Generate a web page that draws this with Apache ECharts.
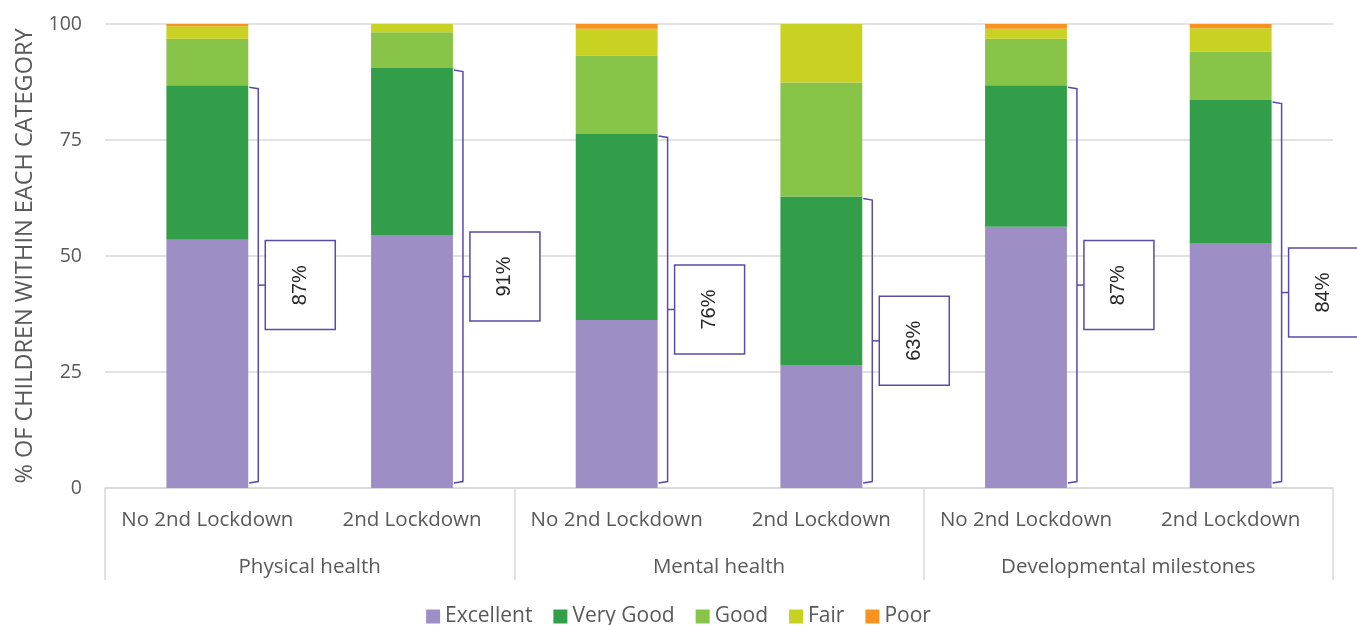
<!DOCTYPE html>
<html>
<head>
<meta charset="utf-8">
<script src="https://cdn.jsdelivr.net/npm/echarts@6/dist/echarts.min.js"></script>
<style>
  html, body { margin: 0; padding: 0; background: #ffffff; }
  #chart { width: 1357px; height: 625px; }
</style>
</head>
<body>
<div id="chart"></div>
<script>
// Sub-categories (first axis level) and their groups (second level)
const subCategories = ['No 2nd Lockdown', '2nd Lockdown', 'No 2nd Lockdown', '2nd Lockdown', 'No 2nd Lockdown', '2nd Lockdown'];
const groups = ['Physical health', 'Mental health', 'Developmental milestones'];

// Share of children (%) in each rating
const excellent = [53.5, 54.5, 36.2, 26.5, 56.3, 52.8];
const veryGood  = [33.3, 36.0, 40.1, 36.3, 30.5, 30.8];
const good      = [10.0,  7.7, 16.9, 24.6, 10.0, 10.5];
const fair      = [ 2.7,  1.8,  5.8, 12.6,  2.2,  5.0];
const poor      = [ 0.5,  0.0,  1.0,  0.0,  1.0,  0.9];

const yTicks = [0, 25, 50, 75, 100];

const seriesNames = ['Excellent', 'Very Good', 'Good', 'Fair', 'Poor'];
const seriesColors = ['#9d8fc5', '#339e49', '#88c448', '#c8d222', '#f7931e'];
const seriesData = [excellent, veryGood, good, fair, poor];

// Excellent + Very Good, shown in the bracket boxes
const topTwo = excellent.map((v, i) => Math.round((v + veryGood[i]) * 10) / 10);

const textColor = '#595959';
const gridColor = '#d9d9d9';
const bracketColor = '#5b4aa8';
const uiFont = '"Open Sans", "Noto Sans", sans-serif';

const chart = echarts.init(document.getElementById('chart'));

const barSeries = seriesNames.map((name, k) => ({
  name: name,
  type: 'bar',
  stack: 'total',
  barWidth: '40%',
  xAxisIndex: 0,
  yAxisIndex: 0,
  itemStyle: { color: seriesColors[k] },
  emphasis: { disabled: true },
  data: seriesData[k]
}));

const bracketSeries = {
  type: 'custom',
  name: 'bracket',
  xAxisIndex: 0,
  yAxisIndex: 0,
  clip: false,
  silent: true,
  z: 5,
  data: topTwo.map((v, i) => [i, v]),
  renderItem: function (params, api) {
    const idx = api.value(0);
    const sum = api.value(1);
    const pTop = api.coord([idx, sum]);
    const pBot = api.coord([idx, 0]);
    const bandW = api.size([1, 0])[0];
    const x = pTop[0] + bandW * 0.2 + 10;
    const yTop = pTop[1] + 2;
    const yBot = pBot[1] - 5;
    const yMid = (yTop + yBot) / 2;
    const boxW = 70, boxH = 89;
    const boxX = x + 7;
    const lineStyle = { stroke: bracketColor, lineWidth: 1.5, fill: null };
    return {
      type: 'group',
      children: [
        {
          type: 'polyline',
          shape: { points: [[x - 9, yTop], [x, yTop + 1.5], [x, yBot - 1.5], [x - 9, yBot]] },
          style: lineStyle
        },
        {
          type: 'line',
          shape: { x1: x, y1: yMid, x2: boxX, y2: yMid },
          style: lineStyle
        },
        {
          type: 'rect',
          shape: { x: boxX, y: yMid - boxH / 2, width: boxW, height: boxH },
          style: { fill: '#ffffff', stroke: bracketColor, lineWidth: 1.5 }
        },
        {
          type: 'text',
          x: boxX + boxW / 2,
          y: yMid,
          rotation: Math.PI / 2,
          style: {
            text: Math.round(sum) + '%',
            fill: '#262626',
            font: '20px "Liberation Sans", Arial, sans-serif',
            align: 'center',
            verticalAlign: 'middle'
          }
        }
      ]
    };
  }
};

chart.setOption({
  animation: false,
  backgroundColor: '#ffffff',
  textStyle: { fontFamily: uiFont },
  grid: { left: 105, right: 24, top: 24, bottom: 137, containLabel: false },
  legend: {
    data: seriesNames,
    top: 601,
    left: 'center',
    icon: 'rect',
    itemWidth: 14,
    itemHeight: 14,
    itemGap: 21,
    textStyle: { color: textColor, fontSize: 21, fontFamily: uiFont }
  },
  xAxis: [
    {
      type: 'category',
      data: subCategories,
      position: 'bottom',
      axisLine: { show: true, lineStyle: { color: gridColor, width: 1.5 } },
      axisTick: { show: false },
      axisLabel: { color: textColor, fontSize: 20.5, margin: 22, interval: 0, fontFamily: uiFont }
    },
    {
      type: 'category',
      data: groups,
      position: 'bottom',
      axisLine: { show: false },
      axisTick: { show: true, length: 92, lineStyle: { color: gridColor, width: 1.5 } },
      axisLabel: { color: textColor, fontSize: 20.5, margin: 69, interval: 0, fontFamily: uiFont },
      splitLine: { show: false }
    }
  ],
  yAxis: {
    type: 'value',
    min: yTicks[0],
    max: yTicks[yTicks.length - 1],
    interval: 25,
    name: '% OF CHILDREN WITHIN EACH CATEGORY',
    nameLocation: 'middle',
    nameGap: 65,
    nameTextStyle: { color: textColor, fontSize: 23.5, fontFamily: uiFont },
    axisLine: { show: false },
    axisTick: { show: false },
    axisLabel: { color: textColor, fontSize: 19.5, margin: 23, fontFamily: uiFont },
    splitLine: { lineStyle: { color: gridColor, width: 1.5 } }
  },
  series: barSeries.concat([bracketSeries])
});
</script>
</body>
</html>
